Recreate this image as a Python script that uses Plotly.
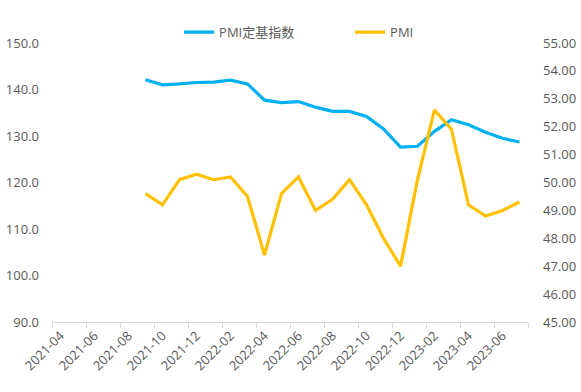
import plotly.graph_objects as go

months = ["2021-04","2021-05","2021-06","2021-07","2021-08","2021-09","2021-10","2021-11","2021-12",
          "2022-01","2022-02","2022-03","2022-04","2022-05","2022-06","2022-07","2022-08","2022-09",
          "2022-10","2022-11","2022-12","2023-01","2023-02","2023-03","2023-04","2023-05","2023-06","2023-07"]
data_months = months[5:]
pmi_base = [142.1, 141.0, 141.2, 141.5, 141.6, 142.0, 141.2, 137.7, 137.2, 137.4, 136.2, 135.3,
            135.3, 134.2, 131.5, 127.6, 127.8, 131.0, 133.5, 132.4, 130.8, 129.5, 128.7]
pmi = [49.6, 49.2, 50.1, 50.3, 50.1, 50.2, 49.5, 47.4, 49.6, 50.2, 49.0, 49.4,
       50.1, 49.2, 48.0, 47.0, 50.1, 52.6, 51.9, 49.2, 48.8, 49.0, 49.3]
tick_labels = months[0::2]

idx = {m: i for i, m in enumerate(months)}
xs = [idx[m] for m in data_months]

fig = go.Figure()
fig.add_trace(go.Scatter(x=xs, y=pmi_base, name="PMI定基指数", mode="lines",
                         line=dict(color="#00B0F0", width=3.2)))
fig.add_trace(go.Scatter(x=xs, y=pmi, name="PMI", mode="lines", yaxis="y2",
                         line=dict(color="#FFC000", width=3.2)))

font_c = "#595959"
fam = "Open Sans, Noto Sans CJK SC, sans-serif"
fig.update_layout(
    width=581, height=392,
    margin=dict(l=52, r=53, t=43, b=70, autoexpand=False),
    paper_bgcolor="white", plot_bgcolor="white",
    font=dict(family=fam, size=13, color=font_c),
    showlegend=True,
    legend=dict(orientation="h", x=0.267, xanchor="left", y=0.985, yref="paper",
                yanchor="bottom", font=dict(size=13, color=font_c), itemwidth=30,
                entrywidth=126, entrywidthmode="pixels",
                bgcolor="rgba(0,0,0,0)"),
    xaxis=dict(range=[-0.5, len(months) - 0.5], tickmode="array", automargin=False,
               tickvals=[idx[m] for m in tick_labels], ticktext=tick_labels,
               tickangle=-45, ticks="", showgrid=False, zeroline=False,
               showline=True, linecolor="#D9D9D9", linewidth=1,
               tickfont=dict(size=13, color=font_c),
               minor=dict(tickmode="array", tickvals=[i - 0.5 for i in range(0, len(months) + 1, 2)],
                          ticks="outside", ticklen=5, tickcolor="#D9D9D9", tickwidth=1, showgrid=False)),
    yaxis=dict(range=[90, 150], tickmode="array", tickvals=[90,100,110,120,130,140,150],
               ticktext=["90.0","100.0","110.0","120.0","130.0","140.0","150.0"], automargin=False,
               showgrid=False, zeroline=False, showline=False, ticks="",
               ticklabelstandoff=12, tickfont=dict(size=13, color=font_c)),
    yaxis2=dict(range=[45, 55], overlaying="y", side="right", tickmode="array", automargin=False,
                tickvals=list(range(45, 56)), ticktext=[f"{v:.2f}" for v in range(45, 56)],
                showgrid=False, zeroline=False, showline=False, ticks="",
                ticklabelstandoff=14, tickfont=dict(size=13, color=font_c)),
)
fig.write_html("out.html", config={"displayModeBar": False},
               post_script="document.body.style.margin='0';document.body.style.overflow='hidden';")
